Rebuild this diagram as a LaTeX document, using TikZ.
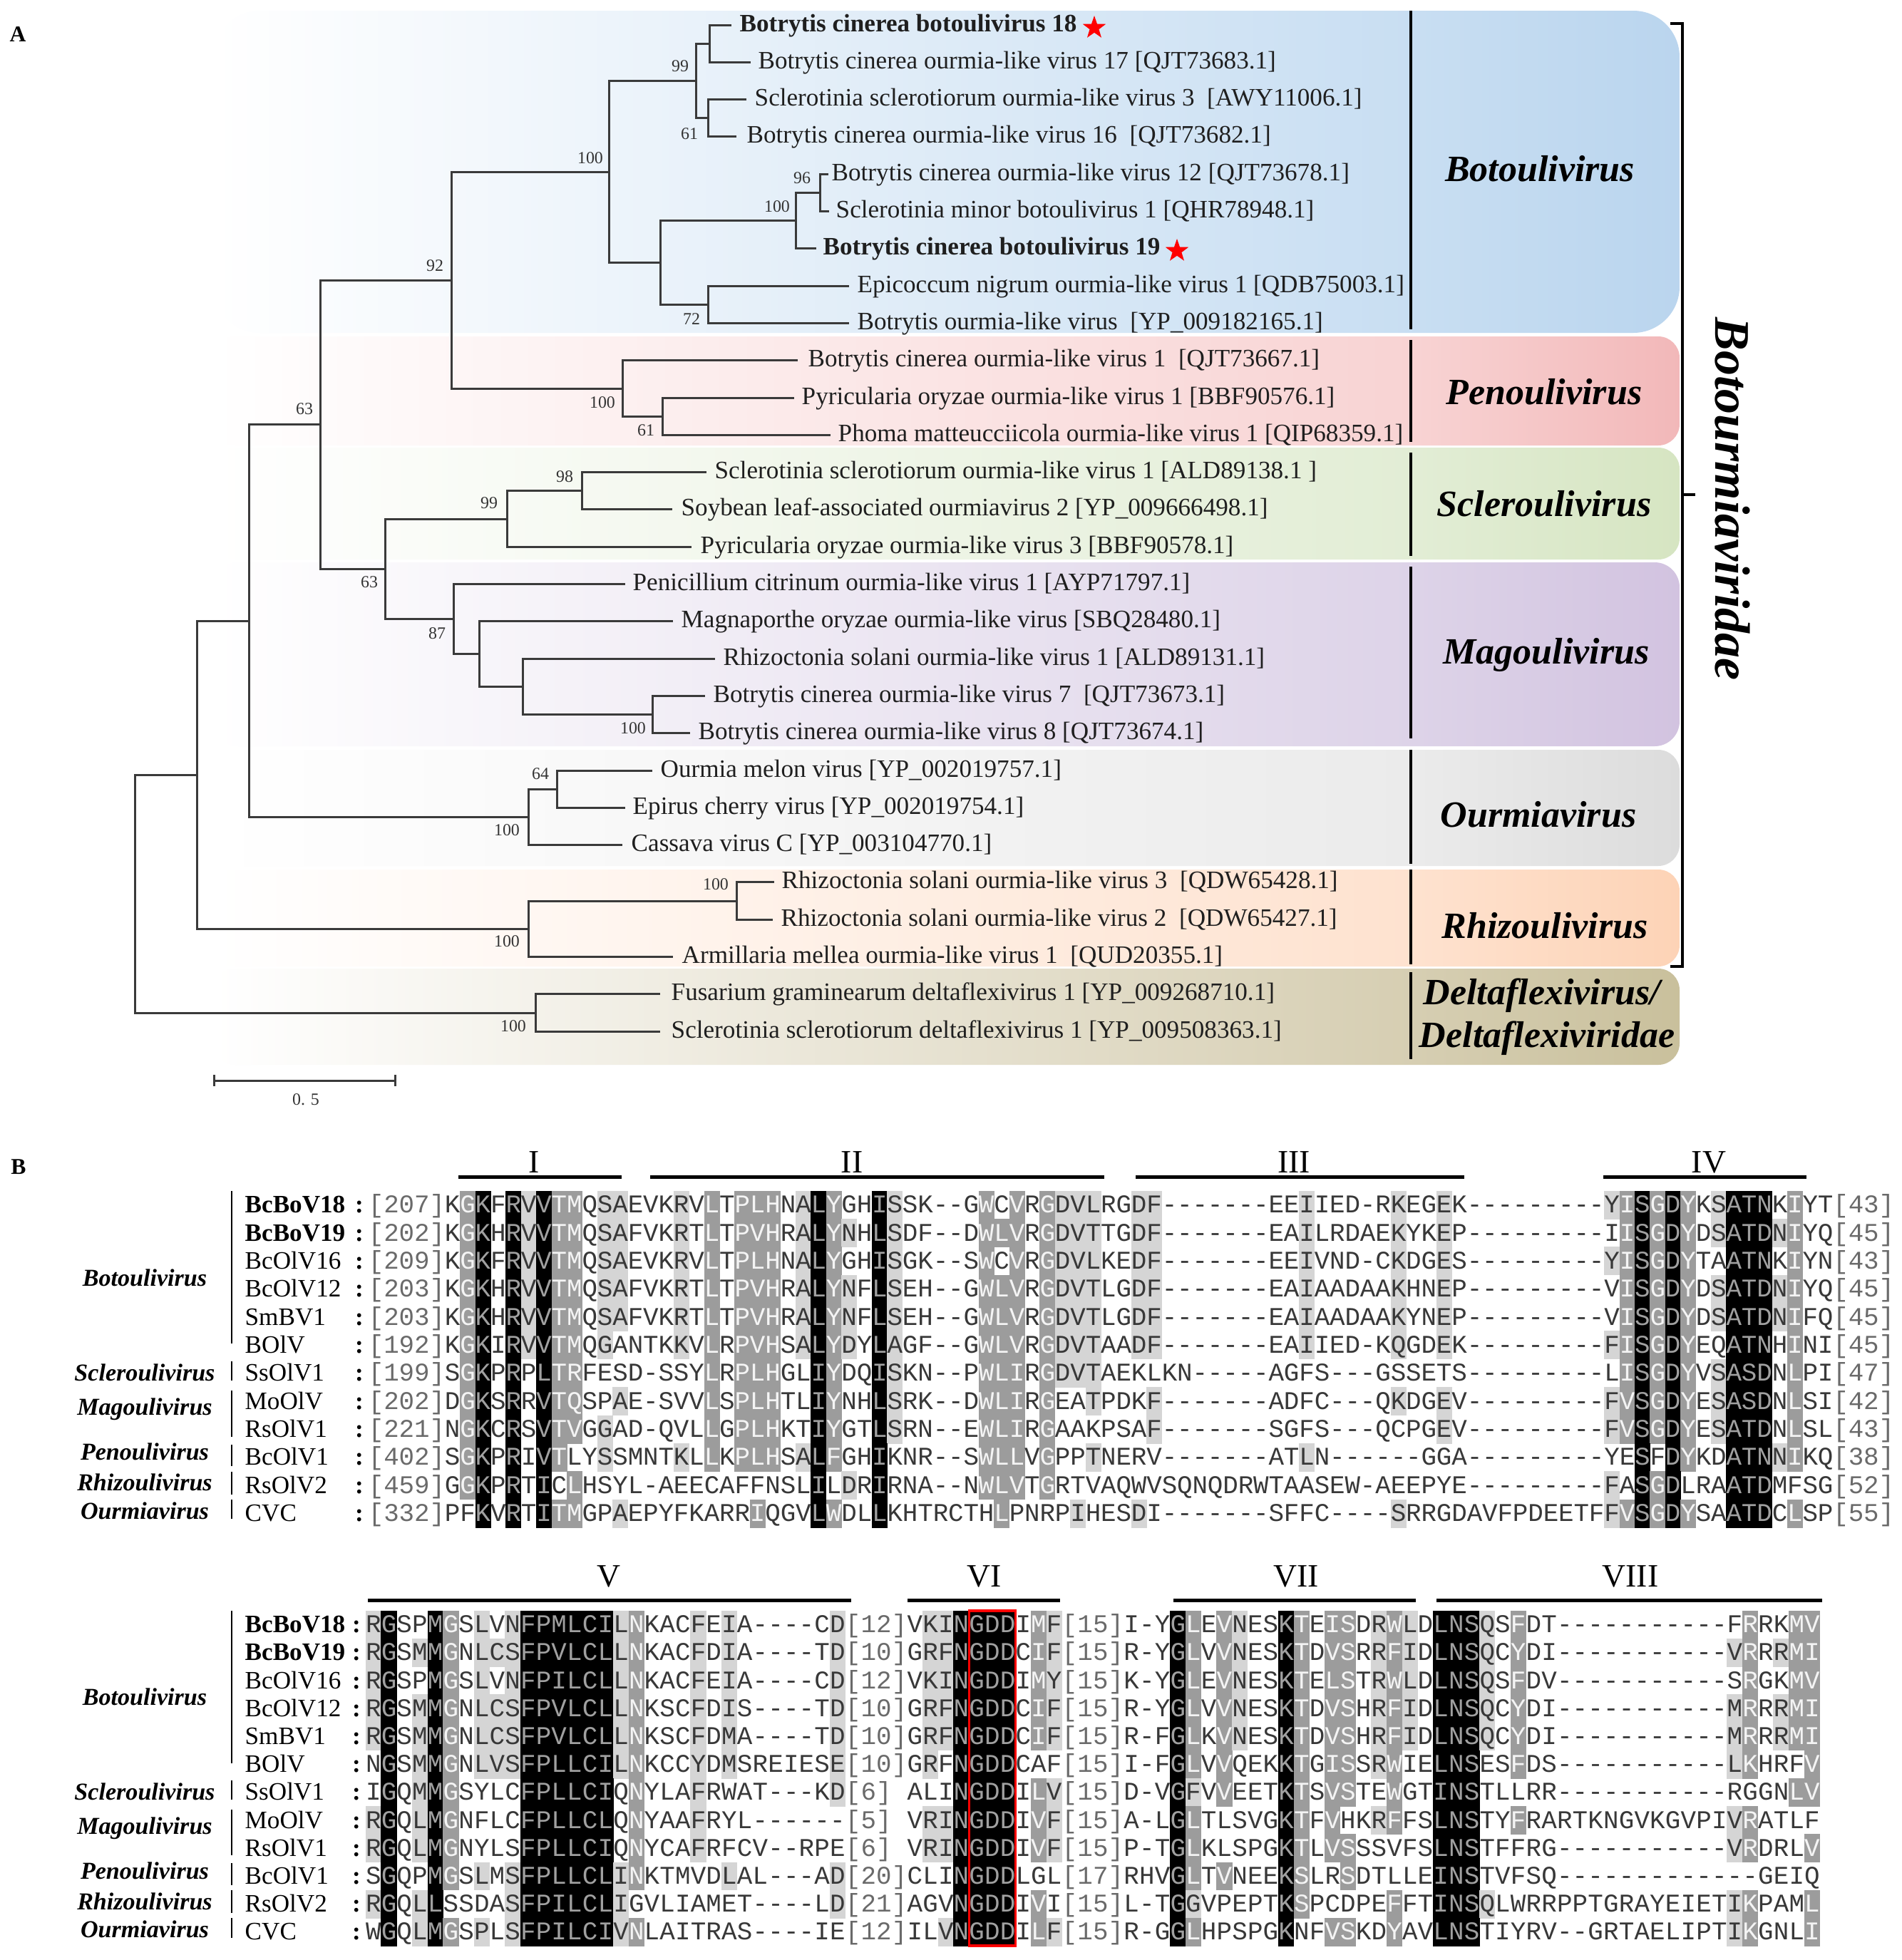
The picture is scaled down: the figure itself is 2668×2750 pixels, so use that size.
\documentclass[tikz,border=0pt]{standalone}
\usepackage{fontspec}
\setmainfont{Liberation Serif}
\setmonofont{Liberation Mono}
\usetikzlibrary{shapes.geometric}

\definecolor{txN}{HTML}{383838}
\definecolor{txG}{HTML}{6A6A6A}
\definecolor{txD}{HTML}{F4F4F4}
\definecolor{txB}{HTML}{A0A0A0}
\definecolor{shD}{HTML}{9C9C9C}
\definecolor{shL}{HTML}{D5D5D5}
\definecolor{treec}{HTML}{3A3A3A}

\definecolor{cBo}{HTML}{BAD5EE}\definecolor{cBoL}{HTML}{C8DEF2}
\definecolor{cPe}{HTML}{F2B8B9}\definecolor{cPeL}{HTML}{F8D3D3}
\definecolor{cSc}{HTML}{D6E5C2}\definecolor{cScL}{HTML}{E2EDD5}
\definecolor{cMa}{HTML}{D2C3E0}\definecolor{cMaL}{HTML}{DDD3E8}
\definecolor{cOu}{HTML}{DCDCDC}\definecolor{cOuL}{HTML}{EBEBEB}
\definecolor{cRh}{HTML}{FDD3B6}\definecolor{cRhL}{HTML}{FEE2CF}
\definecolor{cDe}{HTML}{C9C09C}\definecolor{cDeL}{HTML}{D6CEB2}

\pgfdeclarehorizontalshading{gBo}{100bp}{color(0bp)=(white); color(25bp)=(white); color(66bp)=(cBoL); color(75bp)=(cBo); color(100bp)=(cBo)}
\pgfdeclarehorizontalshading{gPe}{100bp}{color(0bp)=(white); color(25bp)=(white); color(66bp)=(cPeL); color(75bp)=(cPe); color(100bp)=(cPe)}
\pgfdeclarehorizontalshading{gSc}{100bp}{color(0bp)=(white); color(25bp)=(white); color(66bp)=(cScL); color(75bp)=(cSc); color(100bp)=(cSc)}
\pgfdeclarehorizontalshading{gMa}{100bp}{color(0bp)=(white); color(25bp)=(white); color(66bp)=(cMaL); color(75bp)=(cMa); color(100bp)=(cMa)}
\pgfdeclarehorizontalshading{gOu}{100bp}{color(0bp)=(white); color(25bp)=(white); color(66bp)=(cOuL); color(75bp)=(cOu); color(100bp)=(cOu)}
\pgfdeclarehorizontalshading{gRh}{100bp}{color(0bp)=(white); color(25bp)=(white); color(66bp)=(cRhL); color(75bp)=(cRh); color(100bp)=(cRh)}
\pgfdeclarehorizontalshading{gDe}{100bp}{color(0bp)=(white); color(25bp)=(white); color(66bp)=(cDeL); color(75bp)=(cDe); color(100bp)=(cDe)}

\newcommand\alnfont{\ttfamily\fontsize{10.2pt}{12pt}\selectfont}
\newcount\alncol
\def\alnend{}
\newcommand\setsh[4]{\foreach \rr in {#4}{\expandafter\xdef\csname sh#1-\rr-#3\endcsname{#2}}}
\def\alnrow#1#2#3#4#5#6{\def\alnkey{#1}\alncol=#2\relax
  \def\alnxo{#3}\def\alnyo{#4}\def\alncw{#5}\expandafter\alnstep#6\alnend}
\def\alnstep#1#2\alnend{\alncell{#1}\advance\alncol by 1\relax
  \ifx\alnend#2\alnend\else\alnstep#2\alnend\fi}
\def\alncell#1{%
  \ifnum`#1=42 \else
    \pgfmathsetmacro\alnxc{\alnxo+(\the\alncol-0.5)*\alncw}%
    \ifcsname sh\alnkey-\the\alncol\endcsname
      \edef\alnt{\csname sh\alnkey-\the\alncol\endcsname}%
    \else\def\alnt{n}\fi
    \def\alnc{txN}%
    \if b\alnt \def\alnc{txB}\fill[black] ({\alnxc-\alncw/2-0.3},{\alnyo-\alnrh/2-0.3}) rectangle ({\alnxc+\alncw/2+0.3},{\alnyo+\alnrh/2+0.3});\fi
    \if d\alnt \def\alnc{txD}\fill[shD] ({\alnxc-\alncw/2-0.3},{\alnyo-\alnrh/2-0.3}) rectangle ({\alnxc+\alncw/2+0.3},{\alnyo+\alnrh/2+0.3});\fi
    \if l\alnt \fill[shL] ({\alnxc-\alncw/2-0.3},{\alnyo-\alnrh/2-0.3}) rectangle ({\alnxc+\alncw/2+0.3},{\alnyo+\alnrh/2+0.3});\fi
    \ifnum`#1<65 \ifnum`#1=45 \else\def\alnc{txG}\fi\fi
    \ifnum`#1>90 \def\alnc{txG}\fi
    \node[alnch,text=\alnc] at (\alnxc,{\alnyo+11}) {#1};
  \fi}

% ---------- shading specs, block 1 ----------
\setsh{1}{d}{2}{1,...,11}
\setsh{1}{b}{3}{1,...,12}
\setsh{1}{b}{5}{1,...,12}
\setsh{1}{l}{6}{1,...,6}
\setsh{1}{b}{7}{1,...,12}
\setsh{1}{d}{8}{1,...,10,12}
\setsh{1}{d}{9}{1,...,9,11,12}
\setsh{1}{l}{11}{1,...,6,9,10}
\setsh{1}{l}{12}{1,...,5,8,12}
\setsh{1}{l}{16}{1,...,6,10}
\setsh{1}{d}{18}{1,...,10}
\setsh{1}{d}{20}{1,...,10}
\setsh{1}{d}{21}{1,...,10,12}
\setsh{1}{d}{22}{1,...,10}
\setsh{1}{l}{24}{1,...,6,10}
\setsh{1}{b}{25}{1,...,12}
\setsh{1}{d}{26}{1,...,10,12}
\setsh{1}{l}{27}{2,4,5,6,11}
\setsh{1}{b}{29}{1,...,12}
\setsh{1}{l}{30}{1,...,9}
\setsh{1}{d}{36}{1,...,11}
\setsh{1}{d}{37}{2,4,5,...,12}
\setsh{1}{d}{38}{1,...,11}
\setsh{1}{d}{40}{1,...,11}
\setsh{1}{l}{41}{1,...,7}
\setsh{1}{l}{42}{1,...,7,12}
\setsh{1}{l}{43}{1,...,8,10}
\setsh{1}{l}{46}{1,...,6,12}
\setsh{1}{l}{47}{1,...,6,8,9}
\setsh{1}{l}{57}{1,...,6,10}
\setsh{1}{l}{63}{1,...,6,8,12}
\setsh{1}{l}{66}{1,...,6,8,9}
\setsh{1}{l}{77}{1,3,6,8,9,11,12}
\setsh{1}{d}{78}{1,...,9,12}
\setsh{1}{b}{79}{1,...,12}
\setsh{1}{d}{80}{1,...,9,11,12}
\setsh{1}{b}{81}{1,...,12}
\setsh{1}{d}{82}{1,...,10,12}
\setsh{1}{l}{84}{1,2,4,5,7,8,9}
\setsh{1}{b}{85}{1,...,12}
\setsh{1}{b}{86}{1,...,12}
\setsh{1}{b}{87}{1,...,12}
\setsh{1}{l}{88}{2,4,5,10}
\setsh{1}{d}{89}{1,...,10,12}
% ---------- shading specs, block 2 ----------
\setsh{2}{l}{1}{1,...,5,8,9,11}
\setsh{2}{b}{2}{1,...,12}
\setsh{2}{l}{4}{2,4,5,6,7,8,9,11,12}
\setsh{2}{b}{5}{1,...,12}
\setsh{2}{d}{6}{1,...,10,12}
\setsh{2}{l}{8}{1,...,6,10,12}
\setsh{2}{l}{9}{2,4,5,6}
\setsh{2}{l}{10}{1,...,6,10,11,12}
\foreach \cc in {11,...,16}{\setsh{2}{b}{\cc}{1,...,12}}
\setsh{2}{l}{17}{1,...,6,10,11,12}
\setsh{2}{d}{18}{1,...,10,12}
\setsh{2}{l}{22}{1,...,9}
\setsh{2}{l}{24}{1,...,6,10}
\setsh{2}{l}{31}{1,...,7,10,11}
\setsh{2}{l}{37}{1,...,6,8,9}
\setsh{2}{l}{38}{1,...,5,8,9,12}
\foreach \cc in {39,...,42}{\setsh{2}{b}{\cc}{1,...,12}}
\setsh{2}{d}{44}{1,...,5,7,8,9,11,12}
\setsh{2}{l}{45}{1,...,5,7,8,9,12}
\setsh{2}{b}{53}{1,...,12}
\setsh{2}{d}{54}{1,...,6,8,9,10,12}
\setsh{2}{l}{54}{7,11}
\setsh{2}{d}{56}{1,...,7,10}
\setsh{2}{l}{57}{1,...,5}
\setsh{2}{b}{60}{1,...,12}
\setsh{2}{d}{61}{1,...,11}
\setsh{2}{d}{63}{1,...,9,12}
\setsh{2}{d}{64}{1,...,7,9,10,12}
\setsh{2}{l}{66}{1,...,6,8}
\setsh{2}{d}{67}{1,...,8,11,12}
\setsh{2}{l}{68}{1,...,5}
\foreach \cc in {70,71,72}{\setsh{2}{b}{\cc}{1,...,12}}
\setsh{2}{l}{73}{1,...,5,11}
\setsh{2}{d}{75}{1,...,6,8,...,12}
\setsh{2}{l}{89}{2,4,5,6,8,9,11,12}
\setsh{2}{d}{90}{1,...,6,8,9,11,12}
\setsh{2}{l}{92}{2,4,5}
\setsh{2}{d}{93}{1,...,5,7,...,12}
\setsh{2}{d}{94}{1,...,7,9,11,12}

\begin{document}
\begin{tikzpicture}[x=0.1mm,y=-0.1mm,
  leaf/.style={anchor=base west,inner sep=0,font=\fontsize{10pt}{12pt}\selectfont,text=black!88},
  bs/.style={inner sep=0,font=\fontsize{6.8pt}{8pt}\selectfont,text=black!80},
  clade/.style={anchor=base,inner sep=0,font=\bfseries\itshape\fontsize{14.8pt}{17pt}\selectfont},
  tree/.style={line width=0.3mm,draw=treec},
  divl/.style={line width=0.35mm,draw=black},
  alnch/.style={anchor=base,inner sep=0,font=\alnfont},
  nm/.style={anchor=base west,inner sep=0,font=\fontsize{10pt}{12pt}\selectfont},
  gen/.style={anchor=base,inner sep=0,font=\bfseries\itshape\fontsize{9.7pt}{11pt}\selectfont},
  motif/.style={anchor=base,inner sep=0,font=\fontsize{13pt}{15pt}\selectfont},
  mbar/.style={line width=0.5mm,draw=black},
  gbar/.style={line width=0.25mm,draw=black},
  panel/.style={inner sep=0,font=\bfseries\fontsize{9pt}{10pt}\selectfont}]
\useasboundingbox (0,0) rectangle (2668,2750);
\fill[white] (0,0) rectangle (2668,2750);

% ================= Panel A =================
\node[panel] (pA) at (25,48) {A};

% clade bands
\shade[shading=gBo,rounded corners=6.5mm] (300,15) rectangle (2356,467);
\shade[shading=gPe,rounded corners=3mm] (300,472) rectangle (2356,625);
\shade[shading=gSc,rounded corners=3mm] (300,628) rectangle (2356,785);
\shade[shading=gMa,rounded corners=3.5mm] (300,789) rectangle (2356,1047);
\shade[shading=gOu,rounded corners=3mm] (300,1052) rectangle (2356,1215);
\shade[shading=gRh,rounded corners=3mm] (300,1220) rectangle (2356,1356);
\shade[shading=gDe,rounded corners=3mm] (300,1359) rectangle (2356,1494);

% dividers
\draw[divl] (1979,15) -- (1979,462);
\draw[divl] (1979,477) -- (1979,620);
\draw[divl] (1979,635) -- (1979,780);
\draw[divl] (1979,795) -- (1979,1036);
\draw[divl] (1979,1052) -- (1979,1212);
\draw[divl] (1979,1220) -- (1979,1353);
\draw[divl] (1979,1364) -- (1979,1486);

% clade names
\node[clade] (cl1) at (2160,254) {Botoulivirus};
\node[clade] (cl2) at (2166,567) {Penoulivirus};
\node[clade] (cl3) at (2166,724) {Scleroulivirus};
\node[clade] (cl4) at (2169,931) {Magoulivirus};
\node[clade] (cl5) at (2158,1160) {Ourmiavirus};
\node[clade] (cl6) at (2167,1316) {Rhizoulivirus};
\node[clade] (cl7) at (2163,1409) {Deltaflexivirus/};
\node[clade] (cl8) at (2170,1469) {Deltaflexiviridae};

% family bracket
\draw[line width=0.35mm] (2343,33) -- (2360,33) -- (2360,1356) -- (2343,1356);
\draw[line width=0.35mm] (2360,694) -- (2378,694);
\node[rotate=-90,inner sep=0,font=\bfseries\itshape\fontsize{19.9pt}{22pt}\selectfont] (fam) at (2430,700) {Botourmiaviridae};

% internal nodes
\coordinate (root) at (189,1254);
\coordinate (nY) at (276,1087);
\coordinate (nD) at (751,1421);
\coordinate (nX) at (349,871);
\coordinate (nR) at (741,1303.3);
\coordinate (nRa) at (1033,1264);
\coordinate (n63a) at (449,595.6);
\coordinate (nO) at (741,1146.4);
\coordinate (nO64) at (781,1107.2);
\coordinate (n92) at (633,393);
\coordinate (n63b) at (540,798.3);
\coordinate (n100a) at (854,241);
\coordinate (nP100) at (873,545);
\coordinate (n99) at (976,113.5);
\coordinate (nLow) at (926,368.4);
\coordinate (nA) at (995,61.2);
\coordinate (nB) at (993,165.8);
\coordinate (n100b) at (1116,309.6);
\coordinate (n96) at (1150,270.4);
\coordinate (n72) at (993,427.3);
\coordinate (nP61) at (929,584.2);
\coordinate (nS99) at (711,728);
\coordinate (nS98) at (816,688.8);
\coordinate (nM87) at (636,868.5);
\coordinate (nM2) at (672,917.6);
\coordinate (nM3) at (733,963.3);
\coordinate (nM100) at (915,1002.6);

% leaves
\foreach \i/\ex/\tx/\lab in {
0/1026/1037/{\textbf{Botrytis cinerea botoulivirus 18}},
1/1053/1063/{Botrytis cinerea ourmia-like virus 17 [QJT73683.1]},
2/1047/1058/{Sclerotinia sclerotiorum ourmia-like virus 3\ \ [AWY11006.1]},
3/1033/1047/{Botrytis cinerea ourmia-like virus 16\ \ [QJT73682.1]},
4/1162/1166/{Botrytis cinerea ourmia-like virus 12 [QJT73678.1]},
5/1163/1172/{Sclerotinia minor botoulivirus 1 [QHR78948.1]},
6/1145/1154/{\textbf{Botrytis cinerea botoulivirus 19}},
7/1191/1202/{Epicoccum nigrum ourmia-like virus 1 [QDB75003.1]},
8/1191/1202/{Botrytis ourmia-like virus\ \ [YP\_009182165.1]},
9/1119/1133/{Botrytis cinerea ourmia-like virus 1\ \ [QJT73667.1]},
10/1114/1124/{Pyricularia oryzae ourmia-like virus 1 [BBF90576.1]},
11/1165/1175/{Phoma matteucciicola ourmia-like virus 1 [QIP68359.1]},
12/991/1002/{Sclerotinia sclerotiorum ourmia-like virus 1 [ALD89138.1 ]},
13/943/955/{Soybean leaf-associated ourmiavirus 2 [YP\_009666498.1]},
14/970/982/{Pyricularia oryzae ourmia-like virus 3 [BBF90578.1]},
15/877/887/{Penicillium citrinum ourmia-like virus 1 [AYP71797.1]},
16/944/955/{Magnaporthe oryzae ourmia-like virus [SBQ28480.1]},
17/1003/1014/{Rhizoctonia solani ourmia-like virus 1 [ALD89131.1]},
18/989/1000/{Botrytis cinerea ourmia-like virus 7\ \ [QJT73673.1]},
19/968/979/{Botrytis cinerea ourmia-like virus 8 [QJT73674.1]},
20/915/926/{Ourmia melon virus [YP\_002019757.1]},
21/877/887/{Epirus cherry virus [YP\_002019754.1]},
22/873/885/{Cassava virus C [YP\_003104770.1]},
23/1086/1096/{Rhizoctonia solani ourmia-like virus 3\ \ [QDW65428.1]},
24/1084/1095/{Rhizoctonia solani ourmia-like virus 2\ \ [QDW65427.1]},
25/944/956/{Armillaria mellea ourmia-like virus 1\ \ [QUD20355.1]},
26/926/941/{Fusarium graminearum deltaflexivirus 1 [YP\_009268710.1]},
27/926/941/{Sclerotinia sclerotiorum deltaflexivirus 1 [YP\_009508363.1]}}{
  \pgfmathsetmacro\ly{35+52.3*\i}
  \coordinate (l\i) at (\ex,\ly);
  \node[leaf] (t\i) at (\tx,{\ly+9}) {\lab};
}

% branches
\draw[tree] (root) |- (nY); \draw[tree] (root) |- (nD);
\draw[tree] (nY) |- (nX); \draw[tree] (nY) |- (nR);
\draw[tree] (nX) |- (n63a); \draw[tree] (nX) |- (nO);
\draw[tree] (n63a) |- (n92); \draw[tree] (n63a) |- (n63b);
\draw[tree] (n92) |- (n100a); \draw[tree] (n92) |- (nP100);
\draw[tree] (n100a) |- (n99); \draw[tree] (n100a) |- (nLow);
\draw[tree] (n99) |- (nA); \draw[tree] (n99) |- (nB);
\draw[tree] (nA) |- (l0); \draw[tree] (nA) |- (l1);
\draw[tree] (nB) |- (l2); \draw[tree] (nB) |- (l3);
\draw[tree] (nLow) |- (n100b); \draw[tree] (nLow) |- (n72);
\draw[tree] (n100b) |- (n96); \draw[tree] (n100b) |- (l6);
\draw[tree] (n96) |- (l4); \draw[tree] (n96) |- (l5);
\draw[tree] (n72) |- (l7); \draw[tree] (n72) |- (l8);
\draw[tree] (nP100) |- (l9); \draw[tree] (nP100) |- (nP61);
\draw[tree] (nP61) |- (l10); \draw[tree] (nP61) |- (l11);
\draw[tree] (n63b) |- (nS99); \draw[tree] (n63b) |- (nM87);
\draw[tree] (nS99) |- (nS98); \draw[tree] (nS99) |- (l14);
\draw[tree] (nS98) |- (l12); \draw[tree] (nS98) |- (l13);
\draw[tree] (nM87) |- (l15); \draw[tree] (nM87) |- (nM2);
\draw[tree] (nM2) |- (l16); \draw[tree] (nM2) |- (nM3);
\draw[tree] (nM3) |- (l17); \draw[tree] (nM3) |- (nM100);
\draw[tree] (nM100) |- (l18); \draw[tree] (nM100) |- (l19);
\draw[tree] (nO) |- (nO64); \draw[tree] (nO) |- (l22);
\draw[tree] (nO64) |- (l20); \draw[tree] (nO64) |- (l21);
\draw[tree] (nR) |- (nRa); \draw[tree] (nR) |- (l25);
\draw[tree] (nRa) |- (l23); \draw[tree] (nRa) |- (l24);
\draw[tree] (nD) |- (l26); \draw[tree] (nD) |- (l27);

% stars
\node[star,star points=5,star point ratio=2.5,fill=red,inner sep=0,minimum size=3.4mm] (st18) at (1535,39) {};
\node[star,star points=5,star point ratio=2.5,fill=red,inner sep=0,minimum size=3.4mm] (st19) at (1651,352) {};

% bootstrap values
\foreach \bx/\by/\bv [count=\k] in {954/93/99, 967/188/61, 828/222/100, 1125/250/96, 1090/290/100,
  610/373/92, 970/448/72, 845/565/100, 906/604/61, 427/574/63, 792/669/98, 686/706/99,
  518/817/63, 613/889/87, 888/1022/100, 758/1086/64, 711/1165/100, 1004/1241/100,
  711/1321/100, 720/1440/100}{
  \node[bs] (bs\k) at (\bx,\by) {\bv};
}

% scale bar
\coordinate (sbL) at (300,1516); \coordinate (sbR) at (554,1516);
\draw[tree] (sbL) -- (sbR);
\draw[tree] (300,1508) -- (300,1524);
\draw[tree] (554,1508) -- (554,1524);
\node[bs] (sbt) at (429,1543) {0. 5};

% ================= Panel B =================
\node[panel] (pB) at (26,1637) {B};

% motif bars
\draw[mbar] (643,1651) -- (872,1651);  \node[motif] (m1) at (749,1645) {I};
\draw[mbar] (912,1651) -- (1549,1651); \node[motif] (m2) at (1195,1645) {II};
\draw[mbar] (1593,1651) -- (2054,1651);\node[motif] (m3) at (1815,1645) {III};
\draw[mbar] (2249,1651) -- (2534,1651);\node[motif] (m4) at (2397,1645) {IV};
\draw[mbar] (516,2245) -- (1194,2245); \node[motif] (m5) at (854,2226) {V};
\draw[mbar] (1273,2245) -- (1487,2245);\node[motif] (m6) at (1381,2226) {VI};
\draw[mbar] (1646,2245) -- (1986,2245);\node[motif] (m7) at (1818,2226) {VII};
\draw[mbar] (2015,2245) -- (2556,2245);\node[motif] (m8) at (2287,2226) {VIII};

% labels for both blocks
\foreach \bt/\brh/\cx in {1671/39.35/504, 2260/39.2/500}{
  \foreach \rw/\nmtxt in {1/{\textbf{BcBoV18}},2/{\textbf{BcBoV19}},3/BcOlV16,4/BcOlV12,5/SmBV1,6/BOlV,
     7/SsOlV1,8/MoOlV,9/RsOlV1,10/BcOlV1,11/RsOlV2,12/CVC}{
    \node[nm] at (343,{\bt+(\rw-0.5)*\brh+11}) {\nmtxt};
    \node[anchor=base,inner sep=0,font=\bfseries\fontsize{10pt}{12pt}\selectfont] at (\cx,{\bt+(\rw-0.5)*\brh+11}) {:};
  }
  \foreach \gy/\gt in {3.1/Botoulivirus,6.5/Scleroulivirus,7.72/Magoulivirus,9.32/Penoulivirus,10.41/Rhizoulivirus,11.42/Ourmiavirus}{
    \node[gen] at (203,{\bt+\gy*\brh+11}) {\gt};
  }
  \foreach \ya/\yb in {0/5.45, 6.08/6.75, 7.12/8.76, 9.04/9.82, 10.0/10.82, 11.0/11.7}{
    \draw[gbar] (325,{\bt+\ya*\brh}) -- (325,{\bt+\yb*\brh});
  }
}

% block 1 sequences
\def\alnrh{39.35}
\alnrow{1-1}{-4}{624}{1690.7}{21.4}{[207]KGKFRVVTMQSAEVKRVLTPLHNALYGHISSK--GWCVRGDVLRGDF-------EEIIED-RKEGEK---------YISGDYKSATNKIYT[43]}
\alnrow{1-2}{-4}{624}{1730.0}{21.4}{[202]KGKHRVVTMQSAFVKRTLTPVHRALYNHLSDF--DWLVRGDVTTGDF-------EAILRDAEKYKEP---------IISGDYDSATDNIYQ[45]}
\alnrow{1-3}{-4}{624}{1769.4}{21.4}{[209]KGKFRVVTMQSAEVKRVLTPLHNALYGHISGK--SWCVRGDVLKEDF-------EEIVND-CKDGES---------YISGDYTAATNKIYN[43]}
\alnrow{1-4}{-4}{624}{1808.7}{21.4}{[203]KGKHRVVTMQSAFVKRTLTPVHRALYNFLSEH--GWLVRGDVTLGDF-------EAIAADAAKHNEP---------VISGDYDSATDNIYQ[45]}
\alnrow{1-5}{-4}{624}{1848.1}{21.4}{[203]KGKHRVVTMQSAFVKRTLTPVHRALYNFLSEH--GWLVRGDVTLGDF-------EAIAADAAKYNEP---------VISGDYDSATDNIFQ[45]}
\alnrow{1-6}{-4}{624}{1887.4}{21.4}{[192]KGKIRVVTMQGANTKKVLRPVHSALYDYLAGF--GWLVRGDVTAADF-------EAIIED-KQGDEK---------FISGDYEQATNHINI[45]}
\alnrow{1-7}{-4}{624}{1926.8}{21.4}{[199]SGKPRPLTRFESD-SSYLRPLHGLIYDQISKN--PWLIRGDVTAEKLKN-----AGFS---GSSETS---------LISGDYVSASDNLPI[47]}
\alnrow{1-8}{-4}{624}{1966.1}{21.4}{[202]DGKSRRVTQSPAE-SVVLSPLHTLIYNHLSRK--DWLIRGEATPDKF-------ADFC---QKDGEV---------FVSGDYESASDNLSI[42]}
\alnrow{1-9}{-4}{624}{2005.5}{21.4}{[221]NGKCRSVTVGGAD-QVLLGPLHKTIYGTLSRN--EWLIRGAAKPSAF-------SGFS---QCPGEV---------FVSGDYESATDNLSL[43]}
\alnrow{1-10}{-4}{624}{2044.8}{21.4}{[402]SGKPRIVTLYSSMNTKLLKPLHSALFGHIKNR--SWLLVGPPTNERV-------ATLN------GGA---------YESFDYKDATNNIKQ[38]}
\alnrow{1-11}{-4}{624}{2084.2}{21.4}{[459]GGKPRTICLHSYL-AEECAFFNSLILDRIRNA--NWLVTGRTVAQWVSQNQDRWTAASEW-AEEPYE---------FASGDLRAATDMFSG[52]}
\alnrow{1-12}{-4}{624}{2123.5}{21.4}{[332]PFKVRTITMGPAEPYFKARRIQGVLWDLLKHTRCTHLPNRPIHESDI-------SFFC----SRRGDAVFPDEETFFVSGDYSAATDCLSP[55]}

% block 2 sequences
\def\alnrh{39.2}
\alnrow{2-1}{1}{513}{2279.6}{21.7}{RGSPMGSLVNFPMLCILNKACFEIA----CD[12]VKINGDDIMF[15]I-YGLEVNESKTEISDRWLDLNSQSFDT-----------FRRKMV}
\alnrow{2-2}{1}{513}{2318.8}{21.7}{RGSMMGNLCSFPVLCLLNKACFDIA----TD[10]GRFNGDDCIF[15]R-YGLVVNESKTDVSRRFIDLNSQCYDI-----------VRRRMI}
\alnrow{2-3}{1}{513}{2358.0}{21.7}{RGSPMGSLVNFPILCLLNKACFEIA----CD[12]VKINGDDIMY[15]K-YGLEVNESKTELSTRWLDLNSQSFDV-----------SRGKMV}
\alnrow{2-4}{1}{513}{2397.2}{21.7}{RGSMMGNLCSFPVLCLLNKSCFDIS----TD[10]GRFNGDDCIF[15]R-YGLVVNESKTDVSHRFIDLNSQCYDI-----------MRRRMI}
\alnrow{2-5}{1}{513}{2436.4}{21.7}{RGSMMGNLCSFPVLCLLNKSCFDMA----TD[10]GRFNGDDCIF[15]R-FGLKVNESKTDVSHRFIDLNSQCYDI-----------MRRRMI}
\alnrow{2-6}{1}{513}{2475.6}{21.7}{NGSMMGNLVSFPLLCILNKCCYDMSREIESE[10]GRFNGDDCAF[15]I-FGLVVQEKKTGISSRWIELNSESFDS-----------LKHRFV}
\alnrow{2-7}{1}{513}{2514.8}{21.7}{IGQMMGSYLCFPLLCIQNYLAFRWAT---KD[6]*ALINGDDILV[15]D-VGFVVEETKTSVSTEWGTINSTLLRR-----------RGGNLV}
\alnrow{2-8}{1}{513}{2554.0}{21.7}{RGQLMGNFLCFPLLCLQNYAAFRYL------[5]*VRINGDDIVF[15]A-LGLTLSVGKTFVHKRFFSLNSTYFRARTKNGVKGVPIVRATLF}
\alnrow{2-9}{1}{513}{2593.2}{21.7}{RGQLMGNYLSFPLLCIQNYCAFRFCV--RPE[6]*VRINGDDIVF[15]P-TGLKLSPGKTLVSSSVFSLNSTFFRG-----------VRDRLV}
\alnrow{2-10}{1}{513}{2632.4}{21.7}{SGQPMGSLMSFPLLCLINKTMVDLAL---AD[20]CLINGDDLGL[17]RHVGLTVNEEKSLRSDTLLEINSTVFSQ-------------GEIQ}
\alnrow{2-11}{1}{513}{2671.6}{21.7}{RGQLLSSDASFPILCLIGVLIAMET----LD[21]AGVNGDDIVI[15]L-TGGVPEPTKSPCDPEFFTINSQLWRRPPTGRAYEIETIKPAML}
\alnrow{2-12}{1}{513}{2710.8}{21.7}{WGQLMGSPLSFPILCIVNLAITRAS----IE[12]ILVNGDDILF[15]R-GGLHPSPGKNFVSKDYAVLNSTIYRV--GRTAELIPTIKGNLI}

% red box around GDD
\draw[red,line width=0.35mm] (1359.3,2260) rectangle (1424.4,2730);
\end{tikzpicture}
\end{document}
